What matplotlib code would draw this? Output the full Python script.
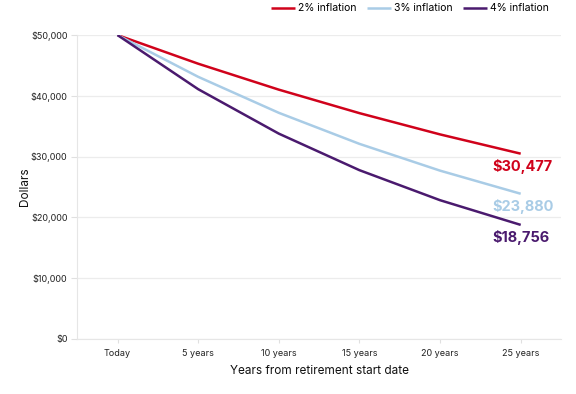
import matplotlib
matplotlib.use("Agg")
import matplotlib.pyplot as plt
from matplotlib.ticker import FuncFormatter

plt.rcParams['font.family'] = ['Inter', 'DejaVu Sans']

# values at each tick
periods = ["Today", "5 years", "10 years", "15 years", "20 years", "25 years"]
infl_2 = [50000, 45287, 41017, 37149, 33649, 30477]
infl_3 = [50000, 43130, 37205, 32094, 27684, 23880]
infl_4 = [50000, 41096, 33778, 27763, 22819, 18756]
series_names = ["2% inflation", "3% inflation", "4% inflation"]
colors = ["#d0021b", "#a9cce6", "#4a1a6e"]

fig = plt.figure(figsize=(5.76, 3.94), dpi=100)
ax = fig.add_axes([0.134, 0.140, 0.840, 0.771])

x = list(range(len(periods)))
handles = []
for vals, name, c in zip([infl_2, infl_3, infl_4], series_names, colors):
    h, = ax.plot(x, vals, color=c, lw=1.8, label=name, solid_capstyle='butt')
    handles.append(h)
    ax.annotate("${:,}".format(vals[-1]), (x[-1], vals[-1]),
                xytext=(-28, -13), textcoords='offset pixels',
                ha='left', va='center', color=c, fontsize=10.5, fontweight='bold')

ax.set_xlim(-0.5, 5.5)
ax.set_ylim(0, 50000)
ax.set_yticks(range(0, 50001, 10000))
ax.yaxis.set_major_formatter(FuncFormatter(lambda v, p: "${:,.0f}".format(v)))
ax.set_xticks(x)
ax.set_xticklabels(periods)
ax.grid(axis='y', color='#ececec', lw=0.9)
ax.set_axisbelow(True)
for s in ['top', 'right']:
    ax.spines[s].set_visible(False)
for s in ['left', 'bottom']:
    ax.spines[s].set_color('#e6e6e6')
ax.tick_params(axis='both', labelsize=6.5, colors='#222222')
ax.tick_params(axis='y', color='#e0e0e0', length=4, pad=3)
ax.tick_params(axis='x', color='#e0e0e0', length=3, pad=4)
ax.set_xlabel("Years from retirement start date", fontsize=8.5, labelpad=5, color='#111111')
ax.set_ylabel("Dollars", fontsize=8.5, color='#111111')
ax.yaxis.set_label_coords(-0.096, 0.5)

fig.legend(handles=handles, loc='upper right', bbox_to_anchor=(0.97, 1.015), ncol=3,
           frameon=False, fontsize=7.5, handlelength=2.3, handletextpad=0.3, columnspacing=1.0)

fig.savefig("out.png", dpi=100)
